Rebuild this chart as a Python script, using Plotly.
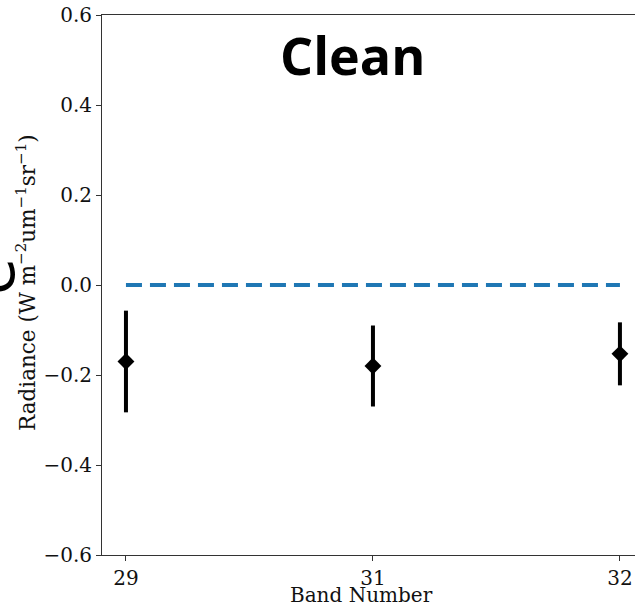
import plotly.graph_objects as go

bands = ["29", "31", "32"]
values = [-0.17, -0.18, -0.153]
errors = [0.113, 0.09, 0.07]
zero_line = [0.0, 0.0, 0.0]
y_ticks = [-0.6, -0.4, -0.2, 0.0, 0.2, 0.4, 0.6]

serif = "DejaVu Serif"

fig = go.Figure()
fig.add_trace(go.Scatter(
    x=bands, y=zero_line, mode="lines",
    line=dict(color="#1f77b4", width=4, dash="16px,8px"),
    showlegend=False, hoverinfo="skip"))
fig.add_trace(go.Scatter(
    x=bands, y=values, mode="markers",
    marker=dict(symbol="diamond", size=13, color="black"),
    error_y=dict(type="data", array=errors, color="black", thickness=4, width=0),
    showlegend=False))

fig.update_layout(
    width=635, height=606,
    margin=dict(l=102, r=0, t=15, b=51),
    plot_bgcolor="white", paper_bgcolor="white",
    xaxis=dict(type="category", range=[-0.097, 2.061],
               showline=True, linecolor="#333", linewidth=1, mirror=True,
               ticks="outside", ticklen=5, tickcolor="#333",
               showgrid=False, zeroline=False, ticklabelstandoff=0,
               tickfont=dict(family=serif, size=20, color="#111")),
    yaxis=dict(range=[-0.6, 0.6], tickvals=y_ticks, tickformat=".1f",
               showline=True, linecolor="#333", linewidth=1, mirror=False,
               ticks="outside", ticklen=5, tickcolor="#333",
               showgrid=False, zeroline=False,
               tickfont=dict(family=serif, size=20, color="#111")),
    annotations=[
        dict(text="Clean", xref="paper", yref="paper", x=(352 - 102) / 533, y=1,
             yshift=-39, xanchor="center", yanchor="middle", showarrow=False,
             font=dict(family="Open Sans", size=52, color="black", weight="bold")),
        dict(text="Band Number", xref="paper", yref="paper", x=(361 - 102) / 533, y=0,
             yshift=-40, xanchor="center", yanchor="middle", showarrow=False,
             font=dict(family=serif, size=20, color="#111")),
        dict(text="Radiance (W m<sup>\u22122</sup>um<sup>\u22121</sup>sr<sup>\u22121</sup>)",
             xref="paper", yref="paper", x=0, xshift=-76, y=(555 - 283) / 540,
             textangle=-90, xanchor="center", yanchor="middle", showarrow=False,
             font=dict(family=serif, size=21.5, color="#111")),
        dict(text="e", xref="paper", yref="paper", x=0, xshift=-109, y=(555 - 277) / 540,
             textangle=-90, xanchor="center", yanchor="middle", showarrow=False,
             font=dict(family="DejaVu Sans", size=60, color="black")),
    ],
)

fig.write_html("out.html")
